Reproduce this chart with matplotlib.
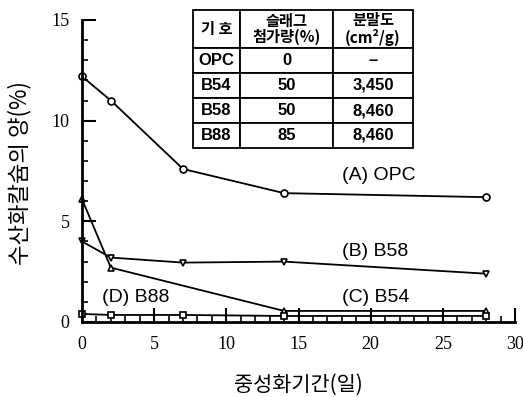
import matplotlib
matplotlib.use("Agg")
import matplotlib.pyplot as plt
from matplotlib.ticker import MultipleLocator

plt.rcParams['font.family'] = ['Noto Sans CJK KR', 'DejaVu Sans']

# data
days = [0, 2, 7, 14, 28]
days_b54 = [0, 2, 14, 28]
opc = [12.2, 11.0, 7.6, 6.4, 6.2]
b58 = [4.0, 3.2, 2.95, 3.0, 2.4]
b54 = [6.1, 2.7, 0.55, 0.55]
b88 = [0.4, 0.35, 0.35, 0.3, 0.3]

# table contents
tbl_header = ["기 호", "슬래그\n첨가량(%)", "분말도\n(cm²/g)"]
tbl_rows = [["OPC", "0", "–"],
            ["B54", "50", "3,450"],
            ["B58", "50", "8,460"],
            ["B88", "85", "8,460"]]

fig = plt.figure(figsize=(5.23, 3.97), dpi=100)
ax = fig.add_axes([82 / 523, 1 - 322 / 397, 433 / 523, 302 / 397])

line_kw = dict(color="black", linewidth=1.3, markersize=5, clip_on=False,
               markerfacecolor="white", markeredgewidth=1.2)
ax.plot(days, opc, marker="o", **line_kw)
ax.plot(days, b58, marker="v", **line_kw)
ax.plot(days_b54, b54, marker="^", **line_kw)
ax.plot(days, b88, marker="s", **line_kw)

ax.set_xlim(0, 30)
ax.set_ylim(0, 15)
ax.xaxis.set_major_locator(MultipleLocator(5))
ax.xaxis.set_minor_locator(MultipleLocator(1))
ax.yaxis.set_major_locator(MultipleLocator(5))
ax.yaxis.set_minor_locator(MultipleLocator(1))

for s in ["top", "right"]:
    ax.spines[s].set_visible(False)
for s in ["left", "bottom"]:
    ax.spines[s].set_linewidth(2)

ax.tick_params(which="major", direction="in", length=10, width=1.5)
ax.tick_params(which="minor", direction="in", length=4, width=1.2)
ax.tick_params(axis="y", pad=9)
ax.tick_params(axis="x", pad=10)
for lab in ax.get_xticklabels() + ax.get_yticklabels():
    lab.set_fontfamily("Liberation Serif")
    lab.set_fontsize(13)

ax.set_xlabel("중성화기간(일)", fontsize=15, labelpad=15)
fig.text(20 / 523, 1 - 173 / 397, "수산화칼슘의 양(%)", fontsize=16,
         rotation=90, ha="center", va="center")

# series labels
lab_kw = dict(fontsize=14, family="Liberation Sans", ha="left", va="center")
ax.text(18.0, 7.3, "(A) OPC", **lab_kw)
ax.text(18.0, 3.5, "(B) B58", **lab_kw)
ax.text(18.0, 1.2, "(C) B54", **lab_kw)
ax.text(1.4, 1.2, "(D) B88", **lab_kw)

# table in the upper right
tb = ax.table(cellText=tbl_rows, colLabels=tbl_header, cellLoc="center",
              colWidths=[47, 93, 80],
              bbox=[(193 - 82) / 433, (322 - 148) / 302, 220 / 433, 138 / 302])
tb.auto_set_font_size(False)
for (r, c), cell in tb.get_celld().items():
    cell.set_linewidth(1.3)
    cell.set_height(38 if r == 0 else 25)
    txt = cell.get_text()
    txt.set_fontweight("bold")
    if r == 0:
        txt.set_fontsize(11)
        txt.set_linespacing(1.0)
    else:
        txt.set_fontsize(12)
        txt.set_fontfamily("Liberation Sans")

fig.savefig("out.png", dpi=100)
